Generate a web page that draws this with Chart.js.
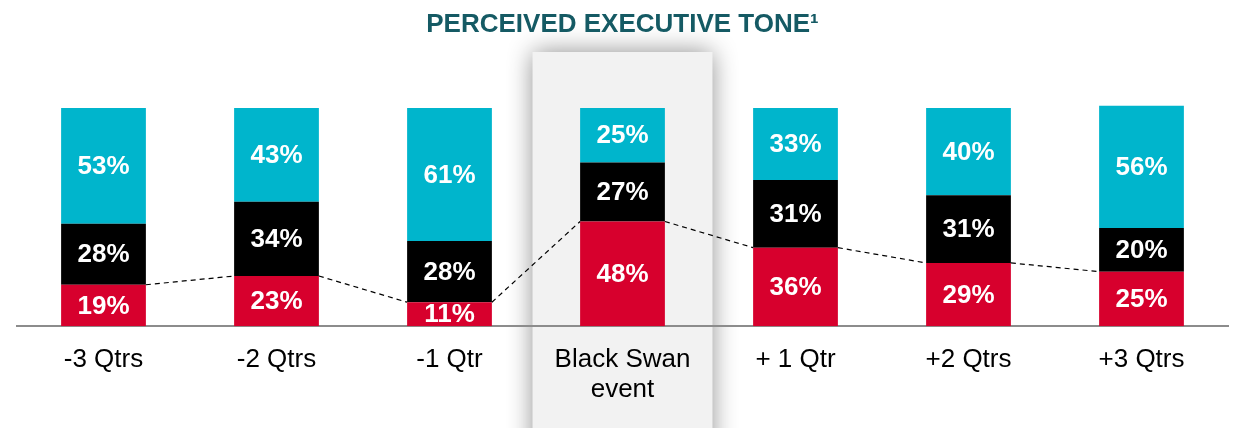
<!DOCTYPE html>
<html>
<head>
<meta charset="utf-8">
<script src="https://cdn.jsdelivr.net/npm/chart.js@4.4.1/dist/chart.umd.min.js"></script>
<style>
    html, body { margin: 0; padding: 0; background: #ffffff; }
    #wrap { width: 1238px; height: 428px; position: relative; }
</style>
</head>
<body>
<div id="wrap"><canvas id="toneChart"></canvas></div>
<script>
// chart data
var quarters = ['-3 Qtrs', '-2 Qtrs', '-1 Qtr', ['Black Swan', 'event'], '+ 1 Qtr', '+2 Qtrs', '+3 Qtrs'];
var negativeTone = [19, 23, 11, 48, 36, 29, 25];
var neutralTone = [28, 34, 28, 27, 31, 31, 20];
var positiveTone = [53, 43, 61, 25, 33, 40, 56];
var highlightIndex = 3;

var FONT = "'Liberation Sans', Arial, sans-serif";

// grey panel behind the black swan column
var highlightPlugin = {
    id: 'highlight',
    beforeDraw: function (chart) {
        var ctx = chart.ctx;
        var x = chart.scales.x;
        var step = x.getPixelForValue(1) - x.getPixelForValue(0);
        var cx = x.getPixelForValue(highlightIndex);
        var w = step * 1.04;
        ctx.save();
        ctx.shadowColor = 'rgba(0,0,0,0.45)';
        ctx.shadowBlur = 24;
        ctx.fillStyle = '#f2f2f2';
        ctx.fillRect(cx - w / 2, 52, w, chart.height);
        ctx.restore();
    }
};

// dashed line linking the tops of the red segments + value labels
var overlayPlugin = {
    id: 'overlay',
    afterDatasetsDraw: function (chart) {
        var ctx = chart.ctx;
        var red = chart.getDatasetMeta(0).data;
        ctx.save();
        ctx.strokeStyle = '#000000';
        ctx.lineWidth = 1.2;
        ctx.setLineDash([5, 4]);
        for (var i = 0; i < red.length - 1; i++) {
            var a = red[i], b = red[i + 1];
            ctx.beginPath();
            ctx.moveTo(a.x + a.width / 2, a.y);
            ctx.lineTo(b.x - b.width / 2, b.y);
            ctx.stroke();
        }
        ctx.setLineDash([]);

        ctx.fillStyle = '#ffffff';
        ctx.font = 'bold 26px ' + FONT;
        ctx.textAlign = 'center';
        ctx.textBaseline = 'middle';
        chart.data.datasets.forEach(function (ds, di) {
            chart.getDatasetMeta(di).data.forEach(function (bar, i) {
                var mid = (bar.y + bar.base) / 2;
                ctx.fillText(ds.data[i] + '%', bar.x, mid + 1);
            });
        });
        ctx.restore();
    }
};

var ctx = document.getElementById('toneChart');
var toneChart = new Chart(ctx, {
    type: 'bar',
    data: {
        labels: quarters,
        datasets: [{
            label: 'Negative',
            data: negativeTone,
            backgroundColor: '#d7002d'
        }, {
            label: 'Neutral',
            data: neutralTone,
            backgroundColor: '#000000'
        }, {
            label: 'Positive',
            data: positiveTone,
            backgroundColor: '#00b5cc'
        }]
    },
    options: {
        responsive: true,
        maintainAspectRatio: false,
        animation: false,
        layout: {
            padding: { left: 17, right: 10, top: 0, bottom: 4 }
        },
        datasets: {
            bar: {
                barPercentage: 0.49,
                categoryPercentage: 1.0,
                borderWidth: 0
            }
        },
        scales: {
            x: {
                stacked: true,
                grid: { display: false, drawTicks: false },
                border: { display: true, color: '#8c8c8c', width: 2 },
                ticks: {
                    color: '#000000',
                    padding: 19,
                    font: { family: FONT, size: 26, lineHeight: 1.15 }
                }
            },
            y: {
                stacked: true,
                display: false,
                min: 0,
                max: 110
            }
        },
        plugins: {
            legend: { display: false },
            tooltip: { enabled: false },
            title: {
                display: true,
                text: 'PERCEIVED EXECUTIVE TONE\u00b9',
                color: '#155a64',
                font: { family: FONT, size: 26, weight: 'bold', lineHeight: 1.2 },
                padding: { top: 9, bottom: 46 }
            }
        }
    },
    plugins: [highlightPlugin, overlayPlugin]
});
</script>
</body>
</html>
